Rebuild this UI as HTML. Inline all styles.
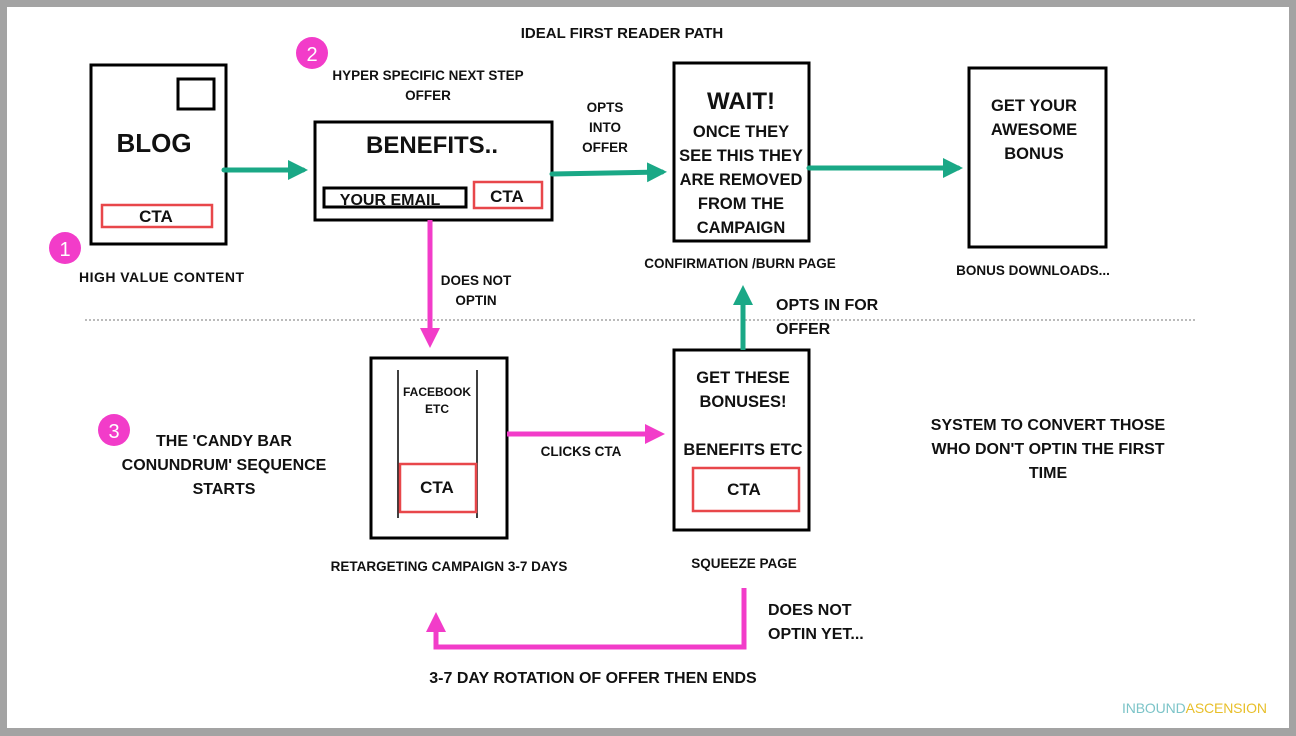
<!DOCTYPE html>
<html><head><meta charset="utf-8"><style>
html,body{margin:0;padding:0;background:#a3a3a3;}
svg{display:block;}
text{font-family:"Liberation Sans",sans-serif;font-weight:bold;fill:#111;}
</style></head><body>
<svg width="1296" height="736" viewBox="0 0 1296 736" xmlns="http://www.w3.org/2000/svg">
<defs>
<marker id="tg" markerWidth="4" markerHeight="4" refX="3" refY="2" orient="auto" markerUnits="strokeWidth"><path d="M0,0 L4,2 L0,4 z" fill="#1aa886"/></marker>
<marker id="mg" markerWidth="4" markerHeight="4" refX="3" refY="2" orient="auto" markerUnits="strokeWidth"><path d="M0,0 L4,2 L0,4 z" fill="#f23cc9"/></marker>
</defs>
<rect x="7" y="7" width="1282" height="721" fill="#fff"/>
<text x="622" y="38" font-size="15" text-anchor="middle">IDEAL FIRST READER PATH</text>

<!-- blog -->
<rect x="91" y="65" width="135" height="179" fill="none" stroke="#000" stroke-width="3"/>
<rect x="178" y="79" width="36" height="30" fill="none" stroke="#000" stroke-width="3"/>
<text x="154" y="152" font-size="26" text-anchor="middle">BLOG</text>
<rect x="102" y="205" width="110" height="22" fill="none" stroke="#e8474a" stroke-width="2.5"/>
<text x="156" y="222" font-size="17" text-anchor="middle">CTA</text>
<circle cx="65" cy="248" r="16" fill="#f23cc9"/>
<text x="65" y="256" font-size="20" text-anchor="middle" style="fill:#fff;font-weight:normal">1</text>
<text x="79" y="282" font-size="14" textLength="165">HIGH VALUE CONTENT</text>

<!-- benefits -->
<circle cx="312" cy="53" r="16" fill="#f23cc9"/>
<text x="312" y="61" font-size="20" text-anchor="middle" style="fill:#fff;font-weight:normal">2</text>
<text x="428" y="80" font-size="13.5" text-anchor="middle">HYPER SPECIFIC NEXT STEP</text>
<text x="428" y="100" font-size="13.5" text-anchor="middle">OFFER</text>
<rect x="315" y="122" width="237" height="98" fill="none" stroke="#000" stroke-width="3"/>
<text x="432" y="153" font-size="24" text-anchor="middle">BENEFITS..</text>
<rect x="324" y="188" width="142" height="19" fill="none" stroke="#000" stroke-width="3"/>
<text x="390" y="205" font-size="16" text-anchor="middle">YOUR EMAIL</text>
<rect x="474" y="182" width="68" height="26" fill="none" stroke="#e8474a" stroke-width="2.5"/>
<text x="507" y="202" font-size="17" text-anchor="middle">CTA</text>
<line x1="224" y1="170" x2="303" y2="170" stroke="#1aa886" stroke-width="5" stroke-linecap="round" marker-end="url(#tg)"/>

<text x="605" y="112" font-size="13.5" text-anchor="middle">OPTS</text>
<text x="605" y="132" font-size="13.5" text-anchor="middle">INTO</text>
<text x="605" y="152" font-size="13.5" text-anchor="middle">OFFER</text>
<line x1="552" y1="174" x2="662" y2="172" stroke="#1aa886" stroke-width="5" stroke-linecap="round" marker-end="url(#tg)"/>

<!-- wait -->
<rect x="674" y="63" width="135" height="178" fill="none" stroke="#000" stroke-width="3"/>
<text x="741" y="109" font-size="24" text-anchor="middle">WAIT!</text>
<text x="741" y="137" font-size="16.5" text-anchor="middle">ONCE THEY</text>
<text x="741" y="161" font-size="16.5" text-anchor="middle">SEE THIS THEY</text>
<text x="741" y="185" font-size="16.5" text-anchor="middle">ARE REMOVED</text>
<text x="741" y="209" font-size="16.5" text-anchor="middle">FROM THE</text>
<text x="741" y="233" font-size="16.5" text-anchor="middle">CAMPAIGN</text>
<text x="740" y="268" font-size="13.5" text-anchor="middle">CONFIRMATION /BURN PAGE</text>
<line x1="809" y1="168" x2="958" y2="168" stroke="#1aa886" stroke-width="5" stroke-linecap="round" marker-end="url(#tg)"/>

<!-- bonus -->
<rect x="969" y="68" width="137" height="179" fill="none" stroke="#000" stroke-width="3"/>
<text x="1034" y="111" font-size="16.5" text-anchor="middle">GET YOUR</text>
<text x="1034" y="135" font-size="16.5" text-anchor="middle">AWESOME</text>
<text x="1034" y="159" font-size="16.5" text-anchor="middle">BONUS</text>
<text x="1033" y="275" font-size="13.5" text-anchor="middle">BONUS DOWNLOADS...</text>

<line x1="85" y1="320" x2="1195" y2="320" stroke="#bbb" stroke-width="2" stroke-dasharray="2,2"/>

<!-- does not optin -->
<line x1="430" y1="220" x2="430" y2="343" stroke="#f23cc9" stroke-width="5" marker-end="url(#mg)"/>
<text x="476" y="285" font-size="13.5" text-anchor="middle">DOES NOT</text>
<text x="476" y="305" font-size="13.5" text-anchor="middle">OPTIN</text>

<!-- facebook -->
<rect x="371" y="358" width="136" height="180" fill="none" stroke="#000" stroke-width="3"/>
<line x1="398" y1="370" x2="398" y2="518" stroke="#000" stroke-width="1.5"/>
<line x1="477" y1="370" x2="477" y2="518" stroke="#000" stroke-width="1.5"/>
<text x="437" y="396" font-size="12" text-anchor="middle">FACEBOOK</text>
<text x="437" y="413" font-size="12" text-anchor="middle">ETC</text>
<rect x="400" y="464" width="76" height="48" fill="none" stroke="#e8474a" stroke-width="2.5"/>
<text x="437" y="493" font-size="17" text-anchor="middle">CTA</text>
<text x="449" y="571" font-size="13.5" text-anchor="middle">RETARGETING CAMPAIGN 3-7 DAYS</text>

<line x1="507" y1="434" x2="660" y2="434" stroke="#f23cc9" stroke-width="5" marker-end="url(#mg)"/>
<text x="581" y="456" font-size="13.5" text-anchor="middle">CLICKS CTA</text>

<!-- squeeze -->
<rect x="674" y="350" width="135" height="180" fill="none" stroke="#000" stroke-width="3"/>
<text x="743" y="383" font-size="16.5" text-anchor="middle">GET THESE</text>
<text x="743" y="407" font-size="16.5" text-anchor="middle">BONUSES!</text>
<text x="743" y="455" font-size="16.5" text-anchor="middle">BENEFITS ETC</text>
<rect x="693" y="468" width="106" height="43" fill="none" stroke="#e8474a" stroke-width="2.5"/>
<text x="744" y="495" font-size="17" text-anchor="middle">CTA</text>
<text x="744" y="568" font-size="13.5" text-anchor="middle">SQUEEZE PAGE</text>
<line x1="743" y1="350" x2="743" y2="290" stroke="#1aa886" stroke-width="5" marker-end="url(#tg)"/>
<text x="776" y="310" font-size="16">OPTS IN FOR</text>
<text x="776" y="334" font-size="16">OFFER</text>

<!-- candy -->
<circle cx="114" cy="430" r="16" fill="#f23cc9"/>
<text x="114" y="438" font-size="20" text-anchor="middle" style="fill:#fff;font-weight:normal">3</text>
<text x="224" y="446" font-size="16" text-anchor="middle">THE 'CANDY BAR</text>
<text x="224" y="470" font-size="16" text-anchor="middle">CONUNDRUM' SEQUENCE</text>
<text x="224" y="494" font-size="16" text-anchor="middle">STARTS</text>

<text x="1048" y="430" font-size="16" text-anchor="middle">SYSTEM TO CONVERT THOSE</text>
<text x="1048" y="454" font-size="16" text-anchor="middle">WHO DON'T OPTIN THE FIRST</text>
<text x="1048" y="478" font-size="16" text-anchor="middle">TIME</text>

<!-- loop -->
<polyline points="744,588 744,647 436,647 436,617" fill="none" stroke="#f23cc9" stroke-width="5" marker-end="url(#mg)"/>
<text x="768" y="615" font-size="16">DOES NOT</text>
<text x="768" y="639" font-size="16">OPTIN YET...</text>
<text x="593" y="683" font-size="16" text-anchor="middle">3-7 DAY ROTATION OF OFFER THEN ENDS</text>

<text x="1122" y="713" font-size="14" style="font-weight:normal;fill:#7cc4c8" textLength="145">INBOUND<tspan style="fill:#e8bf2a">ASCENSION</tspan></text>
</svg>
</body></html>
